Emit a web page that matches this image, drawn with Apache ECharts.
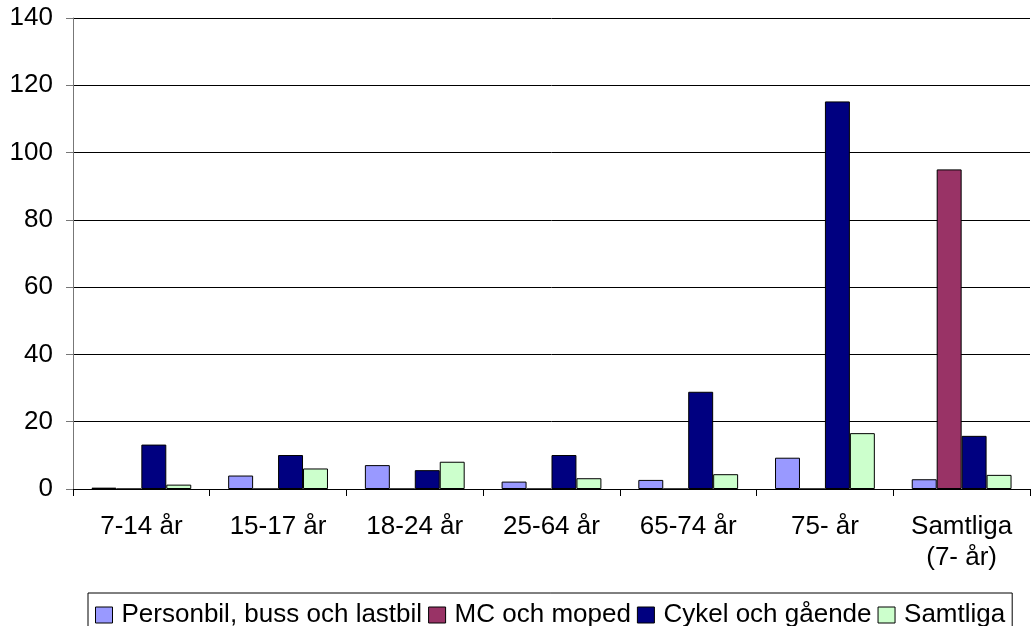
<!DOCTYPE html>
<html>
<head>
    <meta charset="utf-8">
    <title>Stapeldiagram</title>
    <script src="https://cdn.jsdelivr.net/npm/echarts@6/dist/echarts.min.js"></script>
    <style>
        html, body { margin: 0; padding: 0; background: #fff; }
    </style>
</head>
<body>
    <div id="myEcharts" style="width: 1031px;height:626px;"></div>
    <script type="text/javascript">
        // kategorier och värden
        var categories = ['7-14 år', '15-17 år', '18-24 år', '25-64 år', '65-74 år', '75- år', 'Samtliga\n(7- år)'];
        var personbil = [0.4, 4.0, 7.1, 2.2, 2.7, 9.3, 2.9];
        var mcMoped = [0, 0, 0, 0, 0, 0, 95.0];
        var cykelGaende = [13.2, 10.1, 5.6, 10.1, 28.9, 115.2, 15.8];
        var samtliga = [1.3, 6.1, 8.1, 3.2, 4.4, 16.6, 4.2];
        var seriesNames = ['Personbil, buss och lastbil', 'MC och moped', 'Cykel och gående', 'Samtliga'];
        var yTicks = [0, 140, 20]; // min, max, interval

        var myChart = echarts.init(document.getElementById('myEcharts'));

        function bar(name, data, color) {
            return {
                name: name,
                type: 'bar',
                data: data,
                barGap: 0,
                barCategoryGap: '27%',
                itemStyle: {
                    color: color,
                    borderColor: '#000',
                    borderWidth: 1
                }
            };
        }

        var option = {
            animation: false,
            textStyle: { fontFamily: 'Liberation Sans' },
            grid: {
                left: 73,
                right: 1,
                top: 18,
                bottom: 137
            },
            legend: {
                data: seriesNames,
                left: 88,
                top: 593,
                padding: [9, 7, 9, 7],
                itemGap: 6,
                itemWidth: 17,
                itemHeight: 16,
                icon: 'rect',
                borderColor: '#000',
                borderWidth: 1,
                itemStyle: { borderColor: '#000', borderWidth: 1 },
                textStyle: {
                    fontFamily: 'Liberation Sans',
                    fontSize: 26,
                    color: '#000',
                    padding: [0, 0, 0, 4]
                }
            },
            xAxis: {
                type: 'category',
                data: categories,
                axisLine: { lineStyle: { color: '#000', width: 1 } },
                axisTick: { show: true, length: 7, lineStyle: { color: '#000' } },
                axisLabel: {
                    fontFamily: 'Liberation Sans',
                    fontSize: 26,
                    color: '#000',
                    margin: 22,
                    lineHeight: 31,
                    interval: 0
                }
            },
            yAxis: {
                type: 'value',
                min: yTicks[0],
                max: yTicks[1],
                interval: yTicks[2],
                axisLine: { show: true, lineStyle: { color: '#777', width: 1 } },
                axisTick: { show: true, length: 7, lineStyle: { color: '#777' } },
                axisLabel: {
                    fontFamily: 'Liberation Sans',
                    fontSize: 26,
                    color: '#000',
                    margin: 20
                },
                splitLine: { show: true, lineStyle: { color: '#000', width: 1 } }
            },
            series: [
                bar(seriesNames[0], personbil, '#9999FF'),
                bar(seriesNames[1], mcMoped, '#993366'),
                bar(seriesNames[2], cykelGaende, '#000080'),
                bar(seriesNames[3], samtliga, '#CCFFCC')
            ]
        };
        myChart.setOption(option);
    </script>
</body>
</html>
